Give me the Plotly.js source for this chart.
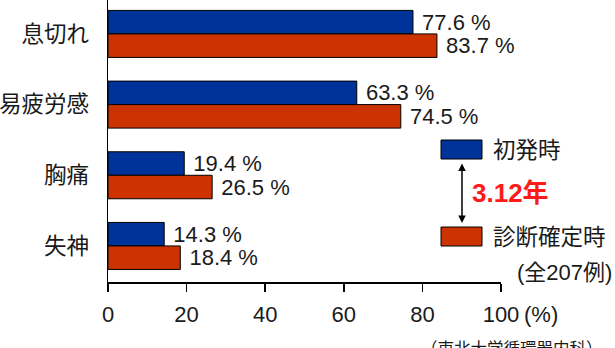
<!DOCTYPE html>
<html>
<head>
<meta charset="utf-8">
<script src="https://cdn.plot.ly/plotly-3.0.1.min.js"></script>
<style>html,body{margin:0;padding:0;background:#fff;}#chart{width:615px;height:348px;}</style>
</head>
<body>
<div id="chart"></div>
<script>
var categories = ["息切れ", "易疲労感", "胸痛", "失神"];
var onsetValues = [77.6, 63.3, 19.4, 14.3];
var diagnosisValues = [83.7, 74.5, 26.5, 18.4];
var seriesNames = ["初発時", "診断確定時"];
var xTicks = [0, 20, 40, 60, 80, 100];

var FONT = "'Liberation Sans', Arial, 'Noto Sans CJK JP', sans-serif";
var FS = 22.5;
var W = 615, H = 348, ML = 108, MR = 114, MT = 0, MB = 66;
var PW = W - ML - MR, PH = H - MT - MB;
function px(p){ return (p - ML) / PW; }
function py(p){ return 1 - (p - MT) / PH; }

function barTrace(vals, name, color){
  return {
    type: "bar", orientation: "h", name: name,
    y: categories, x: vals,
    marker: {color: color, line: {color: "#000", width: 1}},
    text: vals.map(function(v){ return "\u00a0" + v.toFixed(1) + " %"; }),
    textposition: "outside", constraintext: "none", cliponaxis: false,
    textfont: {family: FONT, size: 22, color: "#1a1a1a"},
    hoverinfo: "none"
  };
}

var data = [
  barTrace(onsetValues, seriesNames[0], "#003399"),
  barTrace(diagnosisValues, seriesNames[1], "#cc3300")
];

var layout = {
  width: W, height: H,
  margin: {l: ML, r: MR, t: MT, b: MB, pad: 0},
  paper_bgcolor: "#fff", plot_bgcolor: "#fff",
  showlegend: false,
  barmode: "group", bargap: 0.335, bargroupgap: 0,
  font: {family: FONT, size: FS, color: "#1a1a1a"},
  xaxis: {
    range: [0, 100], tickvals: xTicks, ticktext: xTicks.map(String),
    showgrid: false, zeroline: false, showline: true, linecolor: "#000", linewidth: 1.5,
    ticks: "outside", ticklen: 8, tickwidth: 1.5, tickcolor: "#000",
    ticklabelstandoff: 4,
    tickfont: {family: FONT, size: 22, color: "#1a1a1a"}, fixedrange: true
  },
  yaxis: {
    type: "category", range: [3.51, -0.48],
    showgrid: false, zeroline: false, showline: true, linecolor: "#000", linewidth: 1.5,
    ticks: "", ticklabelstandoff: 13,
    tickfont: {family: FONT, size: FS, color: "#1a1a1a"}, fixedrange: true
  },
  shapes: [
    {type: "rect", xref: "paper", yref: "paper", x0: px(441), x1: px(482), y0: py(140), y1: py(159),
     fillcolor: "#003399", line: {color: "#000", width: 1}},
    {type: "rect", xref: "paper", yref: "paper", x0: px(441), x1: px(482), y0: py(227), y1: py(246),
     fillcolor: "#cc3300", line: {color: "#000", width: 1}}
  ],
  annotations: [
    {xref: "paper", yref: "paper", x: px(491), y: py(150), xanchor: "left", yanchor: "middle",
     text: seriesNames[0], showarrow: false, font: {family: FONT, size: FS, color: "#1a1a1a"}},
    {xref: "paper", yref: "paper", x: px(491), y: py(237), xanchor: "left", yanchor: "middle",
     text: seriesNames[1], showarrow: false, font: {family: FONT, size: FS, color: "#1a1a1a"}},
    {xref: "paper", yref: "paper", x: px(614), y: py(272), xanchor: "right", yanchor: "middle",
     text: "(全207例)", showarrow: false, font: {family: FONT, size: 22, color: "#1a1a1a"}},
    {xref: "paper", yref: "paper", x: px(470), y: py(193), xanchor: "left", yanchor: "middle",
     text: "<b>3.12年</b>", showarrow: false, font: {family: FONT, size: 26, color: "#ff1a1a"}},
    {xref: "paper", yref: "paper", x: px(462), y: py(223), showarrow: true, text: "",
     ax: 0, ay: -61, arrowside: "end+start", arrowhead: 2, arrowsize: 1, arrowwidth: 1.5, arrowcolor: "#000"},
    {xref: "paper", yref: "paper", x: px(522), y: py(315), xanchor: "left", yanchor: "middle",
     text: "(%)", showarrow: false, font: {family: FONT, size: 22, color: "#1a1a1a"}},
    {xref: "paper", yref: "paper", x: px(512), y: py(338), xanchor: "center", yanchor: "top",
     text: "（東北大学循環器内科）", showarrow: false, font: {family: FONT, size: 16.5, color: "#1a1a1a"}}
  ]
};

Plotly.newPlot("chart", data, layout, {staticPlot: true, displayModeBar: false});
</script>
</body>
</html>
